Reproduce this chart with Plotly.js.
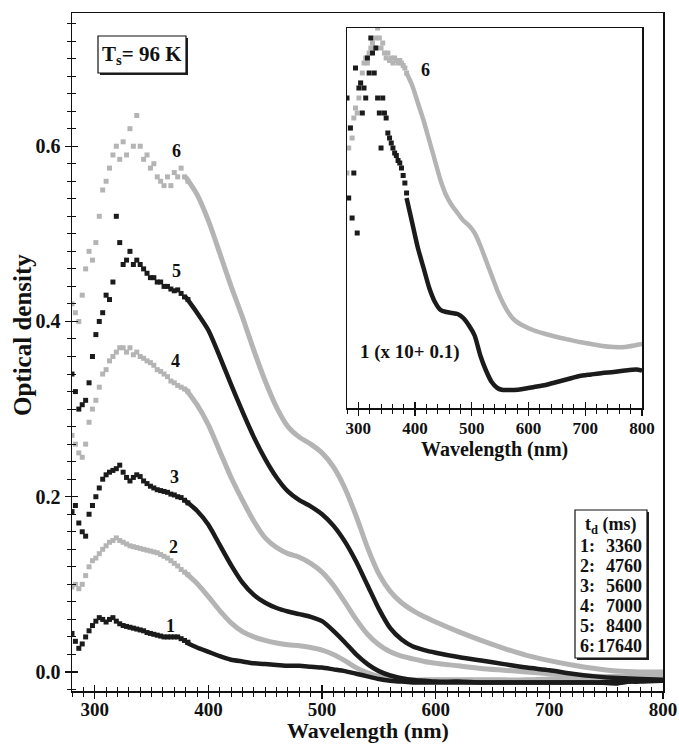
<!DOCTYPE html>
<html>
<head>
<meta charset="utf-8">
<script src="https://cdn.plot.ly/plotly-3.0.1.min.js"></script>
<style>html,body{margin:0;padding:0;background:#fff;}#chart{width:679px;height:744px;}</style>
</head>
<body>
<div id="chart"></div>
<script>
// ---- Main panel: noisy short-wavelength region (drawn as dots) ----
var wlPts = [280,283,286,289,292,295,298,301,304,307,310,313,316,319,322,325,328,331,334,337,340,343,346,349,352,355,358,361,364,367,370,373,376,379,382];
var c6Pts = [0.42,0.41,0.40,0.43,0.46,0.48,0.47,0.49,0.52,0.55,0.56,0.575,0.59,0.60,0.585,0.605,0.59,0.62,0.60,0.635,0.60,0.585,0.59,0.575,0.58,0.565,0.56,0.555,0.565,0.555,0.57,0.565,0.575,0.565,0.56];
var c5Pts = [0.34,0.32,0.30,0.305,0.31,0.33,0.36,0.385,0.40,0.41,0.43,0.425,0.445,0.52,0.49,0.465,0.47,0.48,0.465,0.47,0.465,0.46,0.455,0.45,0.45,0.445,0.445,0.44,0.44,0.437,0.435,0.436,0.432,0.428,0.425];
var c4Pts = [0.27,0.26,0.25,0.245,0.26,0.285,0.30,0.31,0.325,0.34,0.345,0.355,0.36,0.365,0.37,0.37,0.365,0.37,0.362,0.365,0.36,0.358,0.355,0.353,0.35,0.345,0.343,0.34,0.337,0.332,0.33,0.327,0.325,0.323,0.32];
var c3Pts = [0.183,0.19,0.17,0.16,0.155,0.18,0.19,0.20,0.21,0.22,0.225,0.228,0.23,0.232,0.236,0.228,0.222,0.218,0.222,0.225,0.223,0.218,0.215,0.212,0.21,0.208,0.207,0.206,0.205,0.203,0.202,0.20,0.199,0.196,0.193];
var c2Pts = [0.097,0.10,0.095,0.10,0.11,0.12,0.127,0.13,0.135,0.14,0.144,0.148,0.15,0.153,0.15,0.148,0.146,0.144,0.143,0.142,0.141,0.14,0.139,0.138,0.137,0.136,0.134,0.132,0.13,0.127,0.124,0.121,0.117,0.114,0.111];
var c1Pts = [0.044,0.035,0.027,0.032,0.04,0.047,0.053,0.058,0.062,0.06,0.057,0.06,0.062,0.058,0.055,0.053,0.052,0.051,0.05,0.049,0.048,0.047,0.045,0.044,0.043,0.042,0.041,0.04,0.04,0.04,0.04,0.04,0.038,0.036,0.034];

// ---- Main panel: smooth region (drawn as thick lines) ----
var wlLine = [380,390,400,410,420,430,440,450,460,470,480,490,500,510,520,530,540,550,560,570,580,590,600,620,640,660,680,700,720,740,760,780,800];
var c6Line = [0.565,0.545,0.515,0.478,0.44,0.405,0.367,0.332,0.302,0.28,0.268,0.26,0.25,0.234,0.21,0.178,0.142,0.112,0.092,0.079,0.07,0.063,0.057,0.046,0.036,0.027,0.019,0.013,0.008,0.004,0.001,0.0,0.0];
var c5Line = [0.428,0.41,0.39,0.36,0.328,0.297,0.268,0.243,0.222,0.206,0.196,0.189,0.18,0.167,0.149,0.126,0.099,0.072,0.05,0.037,0.029,0.025,0.022,0.017,0.013,0.009,0.005,0.002,-0.002,-0.005,-0.007,-0.008,-0.009];
var c4Line = [0.323,0.305,0.282,0.252,0.222,0.196,0.172,0.153,0.142,0.135,0.131,0.124,0.114,0.099,0.08,0.06,0.043,0.031,0.023,0.018,0.015,0.012,0.01,0.007,0.004,0.002,0.0,-0.002,-0.004,-0.005,-0.005,-0.004,-0.004];
var c3Line = [0.195,0.184,0.168,0.145,0.122,0.102,0.088,0.079,0.073,0.069,0.066,0.063,0.058,0.047,0.034,0.02,0.009,0.001,-0.004,-0.007,-0.009,-0.01,-0.011,-0.011,-0.012,-0.012,-0.012,-0.012,-0.012,-0.012,-0.011,-0.011,-0.01];
var c2Line = [0.113,0.101,0.086,0.07,0.056,0.046,0.04,0.036,0.033,0.031,0.03,0.028,0.025,0.02,0.013,0.005,-0.001,-0.005,-0.007,-0.008,-0.009,-0.009,-0.009,-0.009,-0.009,-0.009,-0.009,-0.008,-0.008,-0.007,-0.006,-0.004,-0.004];
var c1Line = [0.034,0.028,0.023,0.018,0.014,0.012,0.01,0.009,0.008,0.007,0.007,0.006,0.005,0.003,0.001,-0.002,-0.005,-0.008,-0.01,-0.011,-0.012,-0.012,-0.012,-0.012,-0.012,-0.012,-0.012,-0.012,-0.012,-0.012,-0.013,-0.009,-0.01];

// ---- Inset ----
var insetWlPts = [280,283,286,289,292,295,298,301,304,307,310,313,316,319,322,325,328,331,334,337,340,343,346,349,352,355,358,361,364,367,370,373,376,379,382,385];
var insetC6Pts = [0.35,0.40,0.44,0.42,0.46,0.48,0.47,0.50,0.53,0.55,0.57,0.58,0.57,0.59,0.60,0.61,0.60,0.62,0.64,0.62,0.60,0.61,0.59,0.58,0.59,0.575,0.58,0.57,0.58,0.575,0.57,0.575,0.57,0.565,0.56,0.55];
var insetC1Pts = [0.50,0.30,0.44,0.26,0.35,0.56,0.23,0.52,0.53,0.47,0.52,0.50,0.58,0.55,0.62,0.59,0.55,0.60,0.50,0.47,0.40,0.50,0.47,0.46,0.43,0.42,0.41,0.40,0.39,0.385,0.375,0.37,0.36,0.345,0.33,0.31];
var insetWlLine = [385,395,405,415,425,435,445,455,465,475,485,495,505,515,525,535,545,555,565,575,590,610,630,650,670,690,710,730,750,770,790,800];
var insetC6Line = [0.55,0.525,0.49,0.455,0.415,0.375,0.335,0.305,0.285,0.27,0.255,0.245,0.23,0.205,0.175,0.145,0.115,0.09,0.07,0.056,0.045,0.035,0.028,0.022,0.017,0.012,0.008,0.004,0.002,0.002,0.006,0.008];
var insetC1Line = [0.30,0.25,0.20,0.16,0.12,0.092,0.076,0.072,0.07,0.068,0.06,0.045,0.025,-0.015,-0.045,-0.068,-0.08,-0.084,-0.084,-0.084,-0.082,-0.078,-0.074,-0.068,-0.062,-0.056,-0.053,-0.05,-0.048,-0.045,-0.043,-0.045];

// ---- Labels ----
var curveIds = ["1","2","3","4","5","6"];
var delayMs = ["3360","4760","5600","7000","8400","17640"];
var curveLabelX = [367,369,370,371,372,372];
var curveLabelY = [0.053,0.143,0.222,0.355,0.458,0.594];

var GREY = '#b4b4b4', BLACK = '#1b1b1b';
var FONT = 'Liberation Serif, Times New Roman, serif';

function dots(x, y, color, xa, ya) {
  return {x: x, y: y, mode: 'markers', type: 'scatter', xaxis: xa || 'x', yaxis: ya || 'y',
    marker: {symbol: 'square', size: 5, color: color}, hoverinfo: 'skip'};
}
function line(x, y, color, w, xa, ya) {
  return {x: x, y: y, mode: 'lines', type: 'scatter', xaxis: xa || 'x', yaxis: ya || 'y',
    line: {color: color, width: w, shape: 'spline', smoothing: 0.6}, hoverinfo: 'skip'};
}

var traces = [
  dots(wlPts, c6Pts, GREY), line(wlLine, c6Line, GREY, 5),
  dots(wlPts, c4Pts, GREY), line(wlLine, c4Line, GREY, 5),
  dots(wlPts, c2Pts, GREY), line(wlLine, c2Line, GREY, 5),
  dots(wlPts, c5Pts, BLACK), line(wlLine, c5Line, BLACK, 4.5),
  dots(wlPts, c3Pts, BLACK), line(wlLine, c3Line, BLACK, 4.5),
  dots(wlPts, c1Pts, BLACK), line(wlLine, c1Line, BLACK, 4.5),
  dots(insetWlPts, insetC6Pts, GREY, 'x2', 'y2'), line(insetWlLine, insetC6Line, GREY, 4.5, 'x2', 'y2'),
  dots(insetWlPts, insetC1Pts, BLACK, 'x2', 'y2'), line(insetWlLine, insetC1Line, BLACK, 4.5, 'x2', 'y2'),
  {x: [null], y: [null], xaxis: 'x3', yaxis: 'y3', type: 'scatter', mode: 'markers', hoverinfo: 'skip'},
  {x: [null], y: [null], xaxis: 'x4', yaxis: 'y2', type: 'scatter', mode: 'markers', hoverinfo: 'skip'}
];

function px2paperX(px) { return (px - 72) / 591; }
function px2paperY(py) { return (691 - py) / 678; }
function fnt(size) { return {family: FONT, size: size, color: '#111', weight: 'bold'}; }

var annotations = [];
function note(x, y, xref, yref, text, size, extra) {
  var a = {x: x, y: y, xref: xref, yref: yref, text: text, showarrow: false,
    xanchor: 'center', yanchor: 'middle', font: fnt(size)};
  if (extra) { for (var k in extra) { a[k] = extra[k]; } }
  annotations.push(a);
}
for (var i = 0; i < curveIds.length; i++) {
  note(curveLabelX[i], curveLabelY[i], 'x', 'y', curveIds[i], 18);
}
note(419, 0.556, 'x2', 'y2', '6', 18);
note(391, -0.008, 'x2', 'y2', '1 (x 10+ 0.1)', 19);
note(px2paperX(142), px2paperY(55), 'paper', 'paper', 'T<sub>s</sub>= 96 K', 21);
note(px2paperX(611), px2paperY(525), 'paper', 'paper', 't<sub>d</sub> (ms)', 18);
for (var j = 0; j < curveIds.length; j++) {
  var yy = px2paperY(546 + 20 * j);
  note(px2paperX(578), yy, 'paper', 'paper', curveIds[j] + ':', 18, {xanchor: 'left'});
  note(px2paperX(644), yy, 'paper', 'paper', delayMs[j], 18, {xanchor: 'right'});
}
// axis titles
note(0.5, px2paperY(730), 'paper', 'paper', 'Wavelength (nm)', 22, {borderpad: 0});
note(px2paperX(22), px2paperY(335), 'paper', 'paper', 'Optical density', 25, {textangle: -90});
note(px2paperX(494), px2paperY(449), 'paper', 'paper', 'Wavelength (nm)', 20);

function boxShapes(x0, y0, x1, y1) {
  return [
    {type: 'rect', xref: 'paper', yref: 'paper', x0: px2paperX(x0 + 2), x1: px2paperX(x1 + 2),
      y0: px2paperY(y1 + 2), y1: px2paperY(y0 + 2), fillcolor: '#222', line: {width: 0}, layer: 'above'},
    {type: 'rect', xref: 'paper', yref: 'paper', x0: px2paperX(x0), x1: px2paperX(x1),
      y0: px2paperY(y1), y1: px2paperY(y0), fillcolor: '#fff', line: {color: '#111', width: 1.2}, layer: 'above'}
  ];
}
var shapes = boxShapes(98, 36, 186, 73).concat(boxShapes(575, 510, 647, 658));

var baseX = {range: [280, 800], showgrid: false, zeroline: false, tick0: 0, dtick: 100};
var layout = {
  width: 679, height: 744,
  margin: {l: 72, r: 16, t: 13, b: 53},
  paper_bgcolor: '#fff', plot_bgcolor: '#fff',
  showlegend: false,
  xaxis: Object.assign({}, baseX, {
    domain: [0, 1], anchor: 'y', showline: true, linecolor: '#111', linewidth: 1.5, mirror: true,
    ticks: 'outside', ticklen: 6, tickwidth: 1.3, tickcolor: '#111',
    minor: {dtick: 10, ticks: 'outside', ticklen: 4, tickwidth: 1, tickcolor: '#111', showgrid: false},
    tickfont: fnt(19), ticklabelstandoff: -5, automargin: false
  }),
  yaxis: {
    domain: [0, 1], anchor: 'x', range: [-0.0217, 0.752], showgrid: false, zeroline: false,
    tick0: 0, dtick: 0.2, tickformat: '.1f',
    showline: true, linecolor: '#111', linewidth: 1.5, mirror: true,
    ticks: 'outside', ticklen: 6, tickwidth: 1.3, tickcolor: '#111',
    minor: {dtick: 0.02, ticks: 'outside', ticklen: 4, tickwidth: 1, tickcolor: '#111', showgrid: false},
    tickfont: fnt(20), automargin: false
  },
  xaxis3: Object.assign({}, baseX, {
    overlaying: 'x', anchor: 'y', showline: false, showticklabels: false,
    ticks: 'inside', ticklen: 6, tickwidth: 1.3, tickcolor: '#111',
    minor: {dtick: 10, ticks: 'inside', ticklen: 4, tickwidth: 1, tickcolor: '#111', showgrid: false}
  }),
  yaxis3: {
    overlaying: 'y', anchor: 'x', range: [-0.0217, 0.752], showgrid: false, zeroline: false,
    tick0: 0, dtick: 0.2, showline: false, showticklabels: false,
    ticks: 'inside', ticklen: 6, tickwidth: 1.3, tickcolor: '#111',
    minor: {dtick: 0.02, ticks: 'inside', ticklen: 4, tickwidth: 1, tickcolor: '#111', showgrid: false}
  },
  xaxis2: Object.assign({}, baseX, {
    domain: [px2paperX(347), px2paperX(642)], anchor: 'y2',
    showline: true, linecolor: '#111', linewidth: 1.5, mirror: true,
    ticks: 'outside', ticklen: 6, tickwidth: 1.3, tickcolor: '#111',
    minor: {dtick: 20, ticks: 'outside', ticklen: 4, tickwidth: 1, tickcolor: '#111', showgrid: false},
    tickfont: fnt(17), ticklabelstandoff: -2
  }),
  xaxis4: Object.assign({}, baseX, {
    overlaying: 'x2', anchor: 'y2', showline: false, showticklabels: false,
    ticks: 'inside', ticklen: 6, tickwidth: 1.3, tickcolor: '#111',
    minor: {dtick: 20, ticks: 'inside', ticklen: 4, tickwidth: 1, tickcolor: '#111', showgrid: false}
  }),
  yaxis2: {
    domain: [px2paperY(408), px2paperY(28)], anchor: 'x2', range: [-0.12, 0.64],
    showgrid: false, zeroline: false, showticklabels: false, ticks: '',
    showline: true, linecolor: '#111', linewidth: 1.5, mirror: true
  },
  annotations: annotations,
  shapes: shapes
};

Plotly.newPlot('chart', traces, layout, {staticPlot: true, displayModeBar: false});
</script>
</body>
</html>
